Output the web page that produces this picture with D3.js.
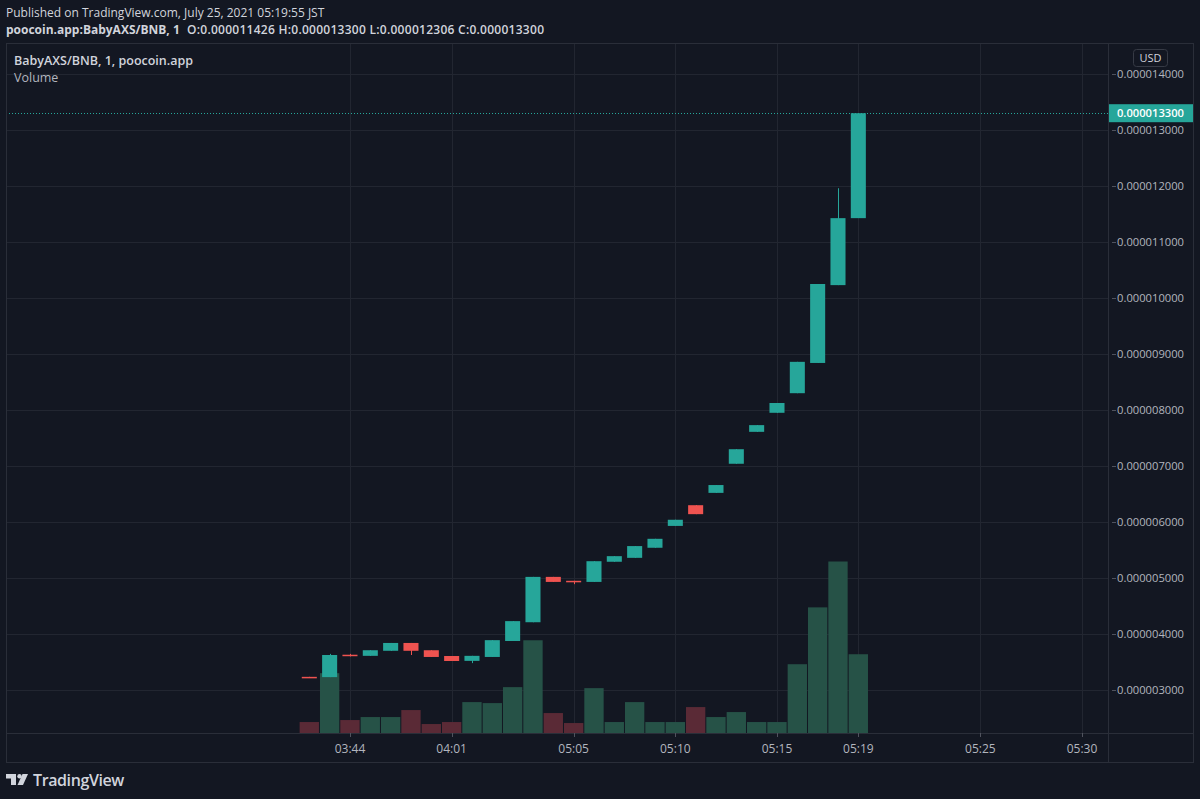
<!DOCTYPE html>
<html>
<head>
<meta charset="utf-8">
<script src="https://cdn.jsdelivr.net/npm/d3@7"></script>
<style>
  html, body { margin: 0; padding: 0; background: #131722; }
  svg { display: block; font-family: "Open Sans", "Noto Sans", sans-serif; }
</style>
</head>
<body>
<div id="chart"></div>
<script>
// bar times (gaps in the feed are collapsed, future slots keep the axis going)
const times = ["03:42","03:43","03:44","03:47","03:50","03:53","03:57","04:01","04:20","04:35",
  "04:50","05:01","05:04","05:05","05:06","05:07","05:08","05:09","05:10","05:11",
  "05:12","05:13","05:14","05:15","05:16","05:17","05:18","05:19"];
const futureTimes = ["05:20","05:21","05:22","05:23","05:24","05:25","05:26","05:27","05:28","05:29","05:30"];
const timeTicks = ["03:44","04:01","05:05","05:10","05:15","05:19","05:25","05:30"];

// prices in units of 1e-6 BNB
const open  = [3.235,3.23,3.63,3.61,3.70,3.84,3.71,3.607,3.52,3.59,3.875,4.21,5.02,4.95,4.93,5.29,5.36,5.54,5.93,6.30,6.52,7.04,7.61,7.95,8.30,8.84,10.23,11.426];
const high  = [3.235,3.645,3.645,3.71,3.84,3.84,3.71,3.607,3.61,3.89,4.23,5.02,5.02,4.95,5.30,5.39,5.57,5.70,6.04,6.30,6.66,7.30,7.73,8.125,8.86,10.25,11.96,13.30];
const low   = [3.23,3.23,3.60,3.61,3.70,3.625,3.59,3.518,3.48,3.59,3.875,4.21,4.93,4.89,4.93,5.29,5.36,5.54,5.93,6.14,6.52,7.04,7.61,7.95,8.30,8.84,10.23,12.306];
const close = [3.23,3.625,3.62,3.71,3.84,3.70,3.59,3.518,3.61,3.89,4.23,5.02,4.93,4.93,5.30,5.39,5.57,5.70,6.04,6.14,6.66,7.30,7.73,8.125,8.86,10.25,11.426,13.30];
const volume = [11,60,13,16,16,23,9,11,31,30,46,93,20,10,45,11,31,11,11,26,16,21,11,11,69,126,172,79];

const priceTicks = [3,4,5,6,7,8,9,10,11,12,13,14];
const lastPrice = 13.30;

const W = 1200, H = 799;
const frame = { left: 6, top: 43, right: 1193, bottom: 762 };
const axisX = 1108, axisY = 733;

const bg = "#131722", grid = "#222631", border = "#2a2e39", txt = "#b2b5be";
const up = "#26a69a", down = "#ef5350", upVol = "#265247", downVol = "#5a2a36";

const bars = times.map((t, i) => ({ t, o: open[i], h: high[i], l: low[i], c: close[i], v: volume[i] }));

const svg = d3.select("#chart").append("svg").attr("width", W).attr("height", H);
svg.append("rect").attr("width", W).attr("height", H).attr("fill", bg);

const x = d3.scalePoint().domain(times.concat(futureTimes)).range([309.3, 1082]);
const step = x.step();
const y = d3.scaleLinear().domain([3, 14]).range([690, 74]);
const yv = d3.scaleLinear().domain([0, d3.max(volume)]).range([axisY, axisY - 171.5]);

// grid
svg.append("g").selectAll("line").data(priceTicks).enter().append("line")
  .attr("x1", frame.left).attr("x2", axisX)
  .attr("y1", d => Math.round(y(d)) + 0.5).attr("y2", d => Math.round(y(d)) + 0.5)
  .attr("stroke", grid);
svg.append("g").selectAll("line").data(timeTicks).enter().append("line")
  .attr("x1", d => Math.round(x(d)) + 0.5).attr("x2", d => Math.round(x(d)) + 0.5)
  .attr("y1", frame.top).attr("y2", axisY)
  .attr("stroke", grid);

// volume
svg.append("g").selectAll("rect").data(bars).enter().append("rect")
  .attr("x", d => x(d.t) - step / 2 + 0.5)
  .attr("width", step - 1)
  .attr("y", d => yv(d.v))
  .attr("height", d => axisY - yv(d.v))
  .attr("fill", d => d.c >= d.o ? upVol : downVol);

// last price line
svg.append("line")
  .attr("x1", frame.left).attr("x2", axisX)
  .attr("y1", Math.round(y(lastPrice)) + 0.5).attr("y2", Math.round(y(lastPrice)) + 0.5)
  .attr("stroke", up).attr("stroke-dasharray", "1,2");

// candles
const bw = step * 0.74;
const cg = svg.append("g");
cg.selectAll("line").data(bars).enter().append("line")
  .attr("x1", d => Math.round(x(d.t)) + 0.5).attr("x2", d => Math.round(x(d.t)) + 0.5)
  .attr("y1", d => y(d.h)).attr("y2", d => y(d.l))
  .attr("stroke", d => d.c >= d.o ? up : down);
cg.selectAll("rect").data(bars).enter().append("rect")
  .attr("x", d => x(d.t) - bw / 2)
  .attr("width", bw)
  .attr("y", d => y(Math.max(d.o, d.c)))
  .attr("height", d => Math.max(1.5, Math.abs(y(d.o) - y(d.c))))
  .attr("fill", d => d.c >= d.o ? up : down);

// frame and separators
svg.append("rect")
  .attr("x", frame.left + 0.5).attr("y", frame.top + 0.5)
  .attr("width", frame.right - frame.left).attr("height", frame.bottom - frame.top)
  .attr("fill", "none").attr("stroke", border);
svg.append("line").attr("x1", axisX + 0.5).attr("x2", axisX + 0.5)
  .attr("y1", frame.top).attr("y2", frame.bottom).attr("stroke", border);
svg.append("line").attr("x1", frame.left).attr("x2", frame.right)
  .attr("y1", axisY + 0.5).attr("y2", axisY + 0.5).attr("stroke", border);

// price axis
const pa = svg.append("g");
pa.selectAll("line").data(priceTicks).enter().append("line")
  .attr("x1", axisX + 4).attr("x2", axisX + 8)
  .attr("y1", d => Math.round(y(d)) + 0.5).attr("y2", d => Math.round(y(d)) + 0.5)
  .attr("stroke", "#50535e");
pa.selectAll("text").data(priceTicks).enter().append("text")
  .attr("x", 1184).attr("y", d => y(d))
  .attr("text-anchor", "end").attr("dy", "0.35em")
  .attr("font-size", 11.2).attr("fill", txt)
  .text(d => (d / 1e6).toFixed(9));

// last price label
svg.append("rect").attr("x", axisX + 1).attr("y", y(lastPrice) - 9)
  .attr("width", frame.right - axisX - 1).attr("height", 18).attr("fill", up);
svg.append("text").attr("x", 1184).attr("y", y(lastPrice)).attr("dy", "0.35em")
  .attr("text-anchor", "end").attr("font-size", 11.2).attr("font-weight", 600)
  .attr("fill", "#ffffff").text((lastPrice / 1e6).toFixed(9));

// USD box
svg.append("rect").attr("x", 1133.5).attr("y", 49.5).attr("width", 34).attr("height", 17)
  .attr("rx", 3).attr("fill", bg).attr("stroke", "#363a45");
svg.append("text").attr("x", 1150.5).attr("y", 58).attr("dy", "0.35em")
  .attr("text-anchor", "middle").attr("font-size", 11).attr("fill", "#d1d4dc").text("USD");

// time axis
const ta = svg.append("g");
ta.selectAll("line").data(timeTicks).enter().append("line")
  .attr("x1", d => Math.round(x(d)) + 0.5).attr("x2", d => Math.round(x(d)) + 0.5)
  .attr("y1", axisY).attr("y2", axisY + 4).attr("stroke", "#50535e");
ta.selectAll("text").data(timeTicks).enter().append("text")
  .attr("x", d => x(d)).attr("y", 748.5).attr("dy", "0.35em")
  .attr("text-anchor", "middle").attr("font-size", 12).attr("fill", txt)
  .text(d => d);

// header
svg.append("text").attr("x", 6).attr("y", 17).attr("font-size", 12).attr("fill", "#d1d4dc")
  .text("Published on TradingView.com, July 25, 2021 05:19:55 JST");
const h2 = svg.append("g").attr("font-size", 12).attr("fill", "#d1d4dc");
h2.append("text").attr("x", 6).attr("y", 34).attr("font-weight", 700)
  .text("poocoin.app:BabyAXS/BNB, 1");
h2.append("text").attr("x", 187).attr("y", 34).attr("font-weight", 600)
  .attr("textLength", 357).attr("lengthAdjust", "spacing")
  .text("O:0.000011426 H:0.000013300 L:0.000012306 C:0.000013300");

// pane legend
svg.append("text").attr("x", 14).attr("y", 65).attr("font-size", 12.5).attr("font-weight", 600)
  .attr("fill", "#d1d4dc").text("BabyAXS/BNB, 1, poocoin.app");
svg.append("text").attr("x", 14).attr("y", 82).attr("font-size", 12.5)
  .attr("fill", "#b2b5be").text("Volume");

// logo
const logo = svg.append("g").attr("fill", "#d1d4dc");
logo.append("path").attr("d", "M6,774 H16 V785 H11 V778.5 H6 Z");
logo.append("circle").attr("cx", 19.5).attr("cy", 776.2).attr("r", 2.2);
logo.append("path").attr("d", "M22.5,774 H28 L23,785 H17.5 Z");
svg.append("text").attr("x", 33).attr("y", 785.5).attr("font-size", 16).attr("font-weight", 600)
  .attr("fill", "#d1d4dc").attr("letter-spacing", "-0.4").text("TradingView");
</script>
</body>
</html>
